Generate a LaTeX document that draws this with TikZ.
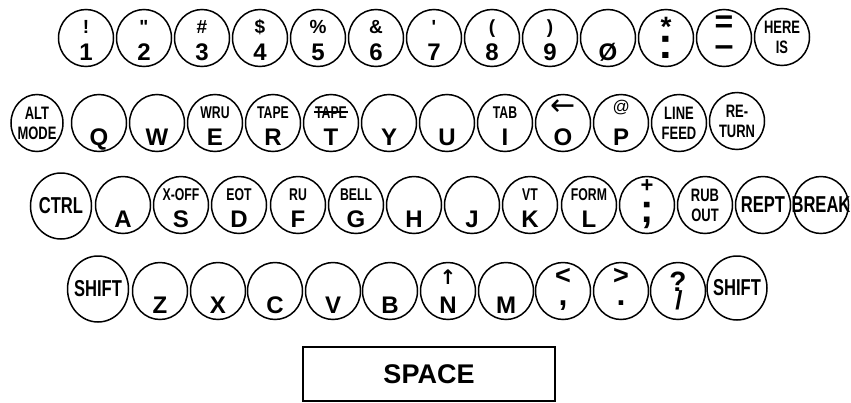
\documentclass[tikz,border=0pt]{standalone}
\usepackage{fontspec}
\setmainfont{Liberation Sans}
\newfontfamily\cond[FakeStretch=0.72]{Liberation Sans}
\newfontfamily\plainf{Liberation Sans}
\newfontfamily\symf{DejaVu Sans}
\usetikzlibrary{shapes.geometric}
\tikzset{
  key/.style={draw, line width=1.5pt, ellipse, minimum width=55pt, minimum height=57pt, inner sep=0pt},
  bigkey/.style={key, minimum width=61pt, minimum height=66pt},
  tp/.style={anchor=base, inner sep=0pt, font=\cond\bfseries\fontsize{17}{17}\selectfont},
  sy/.style={anchor=base, inner sep=0pt, font=\bfseries\fontsize{19}{19}\selectfont},
  bt/.style={anchor=base, inner sep=0pt, font=\bfseries\fontsize{24}{24}\selectfont},
  two/.style={inner sep=0pt, align=center, font=\cond\bfseries\fontsize{18}{20}\selectfont},
  bl/.style={inner sep=0pt, font=\cond\bfseries\fontsize{23}{23}\selectfont},
}
\newcommand\KTB[6]{%
  \node[key] (#1) at (#2,#3) {};
  \node[#4] (#1t) at ([yshift=5pt]#1.center) {#5};
  \node[bt] (#1b) at ([yshift=-22pt]#1.center) {#6};}
\newcommand\KB[4]{%
  \node[key] (#1) at (#2,#3) {};
  \node[bt] (#1b) at ([yshift=-22pt]#1.center) {#4};}
\newcommand\KL[5]{%
  \node[#4] (#1) at (#2,#3) {};
  \node[two] (#1l) at (#1.center) {#5};}
\newcommand\KS[5]{%
  \node[#4] (#1) at (#2,#3) {};
  \node[bl] (#1l) at (#1.center) {#5};}
\begin{document}
\begin{tikzpicture}[x=1pt,y=-1pt]
\useasboundingbox (0,0) rectangle (851,402);
% ---------- row 1
\KTB{k1}{86}{38}{sy}{!}{1}
\KTB{k2}{144}{38}{sy}{\plainf\bfseries "}{2}
\KTB{k3}{202}{38}{sy}{\#}{3}
\KTB{k4}{260}{38}{sy}{\$}{4}
\KTB{k5}{318}{38}{sy}{\%}{5}
\KTB{k6}{376}{38}{sy}{\&}{6}
\KTB{k7}{434}{38}{sy}{\plainf\bfseries '}{7}
\KTB{k8}{492}{38}{sy}{(}{8}
\KTB{k9}{550}{38}{sy}{)}{9}
\KB{k0}{608}{38}{Ø}
\node[key] (kco) at (666,38) {};
\node[anchor=base, inner sep=0pt, font=\bfseries\fontsize{28}{28}\selectfont] (kcot) at ([yshift=2pt]kco.center) {*};
\node[anchor=base, inner sep=0pt, font=\bfseries\fontsize{44}{44}\selectfont] (kcob) at ([yshift=-20pt]kco.center) {:};
\node[key] (kmi) at (724,38) {};
\node[anchor=base, inner sep=0pt, font=\bfseries\fontsize{32}{32}\selectfont] (kmit) at ([yshift=6pt]kmi.center) {=};
\node[anchor=base, inner sep=0pt, font=\bfseries\fontsize{34}{34}\selectfont] (kmib) at ([yshift=-18pt]kmi.center) {–};
\KL{khere}{782}{37}{key}{HERE\\IS}
% ---------- row 2
\KL{kalt}{37}{123}{key, minimum width=52pt}{ALT\\MODE}
\KB{kq}{99}{123}{Q}
\KB{kw}{157}{123}{W}
\KTB{ke}{215}{123}{tp}{WRU}{E}
\KTB{kr}{273}{123}{tp}{TAPE}{R}
\KTB{kt}{331}{123}{tp}{TAPE}{T}
\draw[line width=1.2pt] ([xshift=-1pt,yshift=6pt]ktt.base west) -- ([xshift=1pt,yshift=6pt]ktt.base east);
\KB{ky}{389}{123}{Y}
\KB{ku}{447}{123}{U}
\KTB{ki}{505}{123}{tp}{TAB}{I}
\node[key] (ko) at (563,123) {};
\node[inner sep=0pt, font=\symf\fontsize{30}{30}\selectfont] (kot) at ([yshift=15pt]ko.center) {←};
\node[bt] (kob) at ([yshift=-22pt]ko.center) {O};
\node[key] (kp) at (621,123) {};
\node[anchor=base, inner sep=0pt, font=\itshape\fontsize{17}{17}\selectfont] (kpt) at ([yshift=11pt]kp.center) {@};
\node[bt] (kpb) at ([yshift=-22pt]kp.center) {P};
\KL{klf}{679}{123}{key}{LINE\\FEED}
\KL{kret}{737}{121}{key}{RE-\\TURN}
% ---------- row 3
\KS{kctrl}{61}{206}{bigkey}{CTRL}
\KB{ka}{123}{205}{A}
\KTB{ks}{181}{205}{tp}{X-OFF}{S}
\KTB{kd}{239}{205}{tp}{EOT}{D}
\KTB{kf}{298}{205}{tp}{RU}{F}
\KTB{kg}{356}{205}{tp}{BELL}{G}
\KB{kh}{414}{205}{H}
\KB{kj}{472}{205}{J}
\KTB{kk}{530}{205}{tp}{VT}{K}
\KTB{kl}{589}{205}{tp}{FORM}{L}
\node[key] (ksc) at (647,205) {};
\node[anchor=base, inner sep=0pt, font=\bfseries\fontsize{22}{22}\selectfont] (ksct) at ([yshift=13pt]ksc.center) {+};
\node[anchor=base, inner sep=0pt, font=\bfseries\fontsize{40}{40}\selectfont] (kscb) at ([yshift=-17pt]ksc.center) {;};
\KL{krub}{705}{205}{key}{RUB\\OUT}
\KS{krept}{763}{205}{key}{REPT}
\KS{kbrk}{821}{205}{key}{BREAK}
% ---------- row 4
\KS{kshl}{98}{289}{bigkey}{SHIFT}
\KB{kz}{160}{291}{Z}
\KB{kx}{218}{291}{X}
\KB{kc}{275}{291}{C}
\KB{kv}{333}{291}{V}
\KB{kb}{390}{291}{B}
\node[key] (kn) at (448,291) {};
\node[inner sep=0pt, font=\symf\bfseries\fontsize{20}{20}\selectfont] (knt) at ([yshift=14pt]kn.center) {↑};
\node[bt] (knb) at ([yshift=-22pt]kn.center) {N};
\KB{km}{506}{291}{M}
\node[key] (klt) at (563,291) {};
\node[anchor=base, inner sep=0pt, font=\bfseries\fontsize{27}{27}\selectfont] (kltt) at ([yshift=7pt]klt.center) {<};
\node[anchor=base, inner sep=0pt, font=\bfseries\fontsize{32}{32}\selectfont] (kltb) at ([yshift=-14pt]klt.center) {,};
\node[key] (kgt) at (621,291) {};
\node[anchor=base, inner sep=0pt, font=\bfseries\fontsize{27}{27}\selectfont] (kgtt) at ([yshift=7pt]kgt.center) {>};
\node[anchor=base, inner sep=0pt, font=\bfseries\fontsize{32}{32}\selectfont] (kgtb) at ([yshift=-14pt]kgt.center) {.};
\node[key] (kqm) at (678,291) {};
\node[anchor=base, inner sep=0pt, font=\bfseries\fontsize{28}{28}\selectfont] (kqmt) at ([yshift=0pt]kqm.center) {?};
\node[anchor=base, inner sep=0pt, font=\bfseries\fontsize{26}{26}\selectfont] (kqmb) at ([xshift=1pt,yshift=-18pt]kqm.center) {/};
\KS{kshr}{737}{288}{bigkey, minimum width=60pt, minimum height=64pt}{SHIFT}
% ---------- space bar
\node[draw, line width=1.5pt, minimum width=252pt, minimum height=54pt, inner sep=0pt,
      font=\bfseries\fontsize{27}{27}\selectfont] (space) at (429,374) {SPACE};
\end{tikzpicture}
\end{document}
